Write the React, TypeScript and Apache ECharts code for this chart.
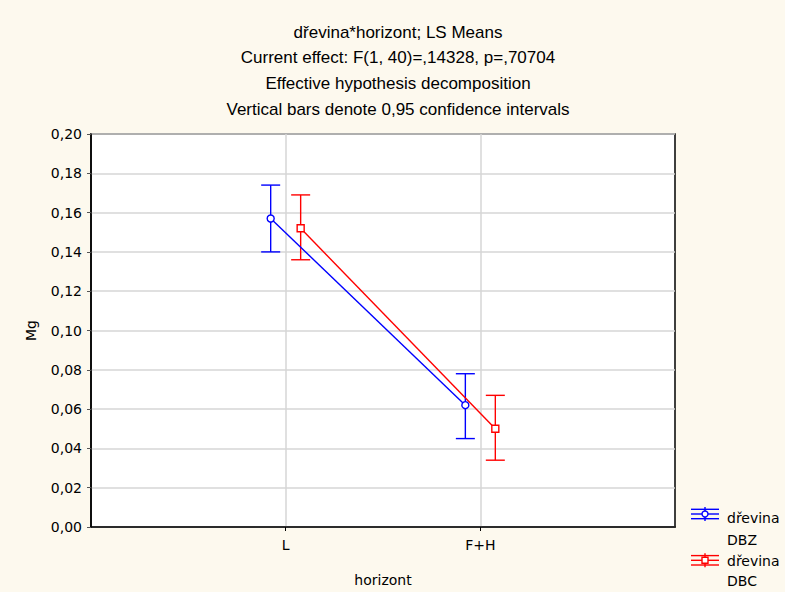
import React, { useEffect, useRef } from "react";
import * as echarts from "echarts";

// horizont categories on the x axis
const categories = ["L", "F+H"];

// LS means of Mg with 0,95 confidence limits, per dřevina
const dbzMean = [0.157, 0.062];
const dbzLow = [0.140, 0.045];
const dbzHigh = [0.174, 0.078];

const dbcMean = [0.152, 0.050];
const dbcLow = [0.136, 0.034];
const dbcHigh = [0.169, 0.067];

const titleLines = [
  "dřevina*horizont; LS Means",
  "Current effect: F(1, 40)=,14328, p=,70704",
  "Effective hypothesis decomposition",
  "Vertical bars denote 0,95 confidence intervals",
];

const BLUE = "#0000ff";
const RED = "#ff0000";
const CREAM = "#fdf9ee";
const AXIS_FONT = "DejaVu Sans";
const TITLE_FONT = "Liberation Sans";

// small horizontal dodge so the two groups do not overlap
const DODGE = 0.077;

const pointData = (means: number[], shift: number) =>
  means.map((m, i) => [i + 1 + shift, m]);

const barData = (low: number[], high: number[], shift: number) =>
  low.map((lo, i) => [i + 1 + shift, lo, high[i]]);

const errorBars = (name: string, color: string, data: number[][]) => ({
  type: "custom",
  name,
  data,
  z: 3,
  renderItem: (_params: any, api: any) => {
    const x = api.value(0);
    const lo = api.coord([x, api.value(1)]);
    const hi = api.coord([x, api.value(2)]);
    const half = 9.5;
    const style = { stroke: color, lineWidth: 1.4 };
    return {
      type: "group",
      children: [
        { type: "line", shape: { x1: lo[0], y1: lo[1], x2: hi[0], y2: hi[1] }, style },
        { type: "line", shape: { x1: hi[0] - half, y1: hi[1], x2: hi[0] + half, y2: hi[1] }, style },
        { type: "line", shape: { x1: lo[0] - half, y1: lo[1], x2: lo[0] + half, y2: lo[1] }, style },
      ],
    };
  },
});

const meanLine = (name: string, color: string, symbol: string, data: number[][]) => ({
  type: "line",
  name,
  data,
  symbol,
  symbolSize: 7,
  showSymbol: true,
  z: 4,
  lineStyle: { color, width: 1.4 },
  itemStyle: { color: "#ffffff", borderColor: color, borderWidth: 1.4 },
});

const legendText = (text: string, y: number) => ({
  type: "text",
  x: 727,
  y,
  style: {
    text,
    font: `14px '${AXIS_FONT}'`,
    fill: "#000",
    textVerticalAlign: "middle",
  },
});

// legend glyph: error-bar icon with its marker, plus a two-line label
const legendEntry = (
  y: number,
  color: string,
  marker: any,
  line1: string,
  line1Y: number,
  line2: string,
  line2Y: number
) => {
  const s = { stroke: color, lineWidth: 1.4 };
  return [
    { type: "line", shape: { x1: 691, y1: y - 4.7, x2: 719, y2: y - 4.7 }, style: s },
    { type: "line", shape: { x1: 691, y1: y, x2: 719, y2: y }, style: s },
    { type: "line", shape: { x1: 691, y1: y + 4.7, x2: 719, y2: y + 4.7 }, style: s },
    { type: "line", shape: { x1: 705, y1: y - 7, x2: 705, y2: y + 7 }, style: s },
    marker,
    legendText(line1, line1Y),
    legendText(line2, line2Y),
  ];
};

export default function App() {
  const ref = useRef<HTMLDivElement>(null);

  useEffect(() => {
    if (!ref.current) return;
    const chart = echarts.init(ref.current, null, { renderer: "svg" });

    const titles = titleLines.map((t, i) => ({
      type: "text",
      x: 398,
      y: 32 + i * 25.7,
      style: {
        text: t,
        font: `17px '${TITLE_FONT}'`,
        fill: "#000",
        textAlign: "center",
        textVerticalAlign: "middle",
      },
    }));

    const legend = [
      ...legendEntry(514, BLUE, {
        type: "circle",
        shape: { cx: 705, cy: 514, r: 3 },
        style: { stroke: BLUE, fill: "#fff", lineWidth: 1.4 },
      }, "dřevina", 518, "DBZ", 540),
      ...legendEntry(560.3, RED, {
        type: "rect",
        shape: { x: 702, y: 557.3, width: 6, height: 6 },
        style: { stroke: RED, fill: "#fff", lineWidth: 1.4 },
      }, "dřevina", 561, "DBC", 581),
    ];

    chart.setOption({
      animation: false,
      backgroundColor: CREAM,
      grid: {
        left: 91,
        right: 110,
        top: 134,
        bottom: 64,
        show: true,
        backgroundColor: "#ffffff",
        borderColor: "#000000",
        borderWidth: 1.5,
      },
      xAxis: {
        type: "value",
        min: 0,
        max: categories.length + 1,
        interval: 1,
        name: "horizont",
        nameLocation: "middle",
        nameGap: 46,
        nameTextStyle: { fontFamily: AXIS_FONT, fontSize: 14, color: "#000" },
        axisLine: { lineStyle: { color: "#000", width: 1.5 } },
        axisTick: {
          show: true,
          length: 4,
          lineStyle: { color: "#000" },
          customValues: categories.map((_, i) => i + 1),
        },
        axisLabel: {
          fontFamily: AXIS_FONT,
          fontSize: 14,
          color: "#000",
          margin: 11,
          customValues: categories.map((_, i) => i + 1),
          formatter: (v: number) => categories[Math.round(v) - 1] ?? "",
        },
        splitLine: { show: true, lineStyle: { color: "#d6d6d6", width: 1.5 } },
      },
      yAxis: {
        type: "value",
        min: 0,
        max: 0.2,
        interval: 0.02,
        name: "Mg",
        nameLocation: "middle",
        nameGap: 53,
        nameTextStyle: { fontFamily: AXIS_FONT, fontSize: 14, color: "#000" },
        axisLine: { show: true, lineStyle: { color: "#000", width: 1.5 } },
        axisTick: { show: true, length: 4, lineStyle: { color: "#555" } },
        axisLabel: {
          fontFamily: AXIS_FONT,
          fontSize: 14,
          color: "#000",
          margin: 9,
          formatter: (v: number) => v.toFixed(2).replace(".", ","),
        },
        splitLine: { show: true, lineStyle: { color: "#d6d6d6", width: 1.5 } },
      },
      series: [
        errorBars("DBZ bars", BLUE, barData(dbzLow, dbzHigh, -DODGE)),
        errorBars("DBC bars", RED, barData(dbcLow, dbcHigh, DODGE)),
        meanLine("dřevina DBZ", BLUE, "circle", pointData(dbzMean, -DODGE)),
        meanLine("dřevina DBC", RED, "rect", pointData(dbcMean, DODGE)),
      ],
      graphic: [...titles, ...legend],
    });

    return () => chart.dispose();
  }, []);

  return (
    <div
      ref={ref}
      style={{ position: "absolute", left: 0, top: 0, width: 785, height: 592 }}
    />
  );
}
